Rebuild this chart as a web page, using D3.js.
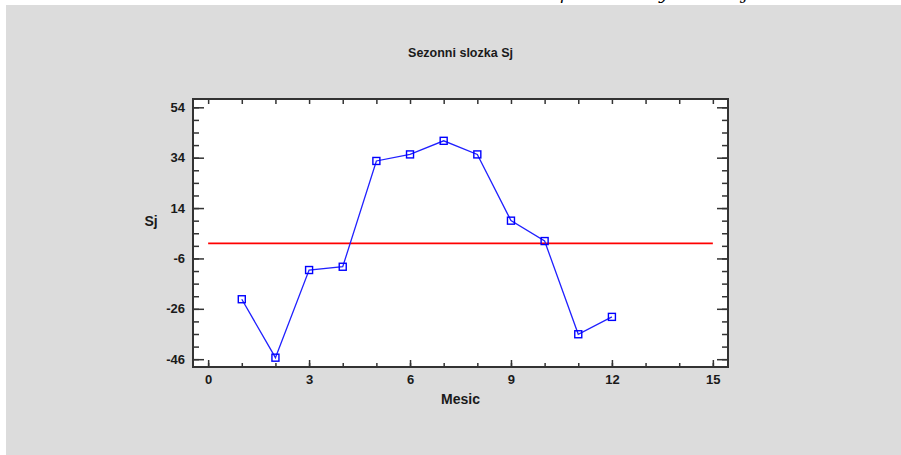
<!DOCTYPE html>
<html>
<head>
<meta charset="utf-8">
<script src="https://cdn.jsdelivr.net/npm/d3@7"></script>
<style>
	body { margin: 0; background: #fff; }
	text { font-family: "Liberation Sans", Arial, sans-serif; fill: #1a1a1a; }
</style>
</head>
<body>
<div id="chart"></div>
<script>
// seasonal component per month
var months = [1, 2, 3, 4, 5, 6, 7, 8, 9, 10, 11, 12];
var sj = [-22.2, -45.4, -10.6, -9.3, 32.7, 35.3, 40.7, 35.3, 9.0, 0.9, -36.1, -29.2];
var refLevel = [0];
var xMajor = [0, 3, 6, 9, 12, 15];
var xMinor = d3.range(0, 16, 1);
var yMajor = [-46, -26, -6, 14, 34, 54];
var yMinor = d3.range(-46, 55, 5);
var titleText = 'Sezonni slozka Sj';
var xTitle = 'Mesic';
var yTitle = 'Sj';
var topFragments = ['p', 'y', 'j'];

var W = 901, H = 455;
var plot = {left: 193, right: 728, top: 99, bottom: 367};

var svg = d3.select('#chart').append('svg')
	.attr('width', W)
	.attr('height', H);

// grey panel
svg.append('rect')
	.attr('x', 6).attr('y', 5)
	.attr('width', W - 6).attr('height', H - 5)
	.attr('fill', '#dcdcdc');

// text of the page above, only its descenders show
svg.selectAll('text.frag')
	.data(topFragments)
	.enter().append('text')
	.attr('class', 'frag')
	.attr('x', function(d, i){ return [560, 659, 743][i]; })
	.attr('y', -1)
	.attr('fill', '#000')
	.style('fill', '#000')
	.style('font-family', '"DejaVu Serif", serif')
	.style('font-style', 'italic')
	.style('font-size', '17px')
	.text(function(d){ return d; });

var x = d3.scaleLinear().domain([-0.45, 15.45]).range([plot.left, plot.right]);
var y = d3.scaleLinear().domain([-49.1, 57.3]).range([plot.bottom, plot.top]);
var fmt = function(d){ return String(d); };

svg.append('rect')
	.attr('x', plot.left).attr('y', plot.top)
	.attr('width', plot.right - plot.left)
	.attr('height', plot.bottom - plot.top)
	.attr('fill', '#fff');

function styleAxis(g){
	g.select('.domain').remove();
	g.selectAll('line').attr('stroke', '#333').attr('stroke-width', 1.5);
	g.selectAll('text')
		.style('font-size', '13px')
		.style('font-weight', 'bold')
		.attr('fill', '#1a1a1a');
}

// left
svg.append('g').attr('transform', 'translate(' + plot.left + ',0)')
	.call(d3.axisLeft(y).tickValues(yMinor).tickSize(-6).tickFormat(''))
	.call(styleAxis);
svg.append('g').attr('transform', 'translate(' + plot.left + ',0)')
	.call(d3.axisLeft(y).tickValues(yMajor).tickSize(-11).tickPadding(8).tickFormat(fmt))
	.call(styleAxis);
// right
svg.append('g').attr('transform', 'translate(' + plot.right + ',0)')
	.call(d3.axisRight(y).tickValues(yMinor).tickSize(-6).tickFormat(''))
	.call(styleAxis);
svg.append('g').attr('transform', 'translate(' + plot.right + ',0)')
	.call(d3.axisRight(y).tickValues(yMajor).tickSize(-11).tickFormat(''))
	.call(styleAxis);
// bottom
svg.append('g').attr('transform', 'translate(0,' + plot.bottom + ')')
	.call(d3.axisBottom(x).tickValues(xMinor).tickSize(-4).tickFormat(''))
	.call(styleAxis);
svg.append('g').attr('transform', 'translate(0,' + plot.bottom + ')')
	.call(d3.axisBottom(x).tickValues(xMajor).tickSize(-7).tickPadding(8).tickFormat(fmt))
	.call(styleAxis);
// top
svg.append('g').attr('transform', 'translate(0,' + plot.top + ')')
	.call(d3.axisTop(x).tickValues(xMinor).tickSize(-5).tickFormat(''))
	.call(styleAxis);

// frame
svg.append('rect')
	.attr('x', plot.left).attr('y', plot.top)
	.attr('width', plot.right - plot.left)
	.attr('height', plot.bottom - plot.top)
	.attr('fill', 'none')
	.attr('stroke', '#333')
	.attr('stroke-width', 2);

// reference line
svg.selectAll('line.ref')
	.data(refLevel)
	.enter().append('line')
	.attr('class', 'ref')
	.attr('x1', x(0)).attr('x2', x(15))
	.attr('y1', function(d){ return y(d); })
	.attr('y2', function(d){ return y(d); })
	.attr('stroke', '#ff0000')
	.attr('stroke-width', 1.6);

var pts = months.map(function(m, i){ return {m: m, v: sj[i]}; });

var line = d3.line()
	.x(function(d){ return x(d.m); })
	.y(function(d){ return y(d.v); });

svg.append('path')
	.datum(pts)
	.attr('d', line)
	.attr('fill', 'none')
	.attr('stroke', '#2020ff')
	.attr('stroke-width', 1.3);

var ms = 7;
svg.selectAll('rect.marker')
	.data(pts)
	.enter().append('rect')
	.attr('class', 'marker')
	.attr('x', function(d){ return x(d.m) - ms / 2; })
	.attr('y', function(d){ return y(d.v) - ms / 2; })
	.attr('width', ms).attr('height', ms)
	.attr('fill', 'none')
	.attr('stroke', '#0000ff')
	.attr('stroke-width', 1.4);

// titles
svg.append('text')
	.attr('x', (plot.left + plot.right) / 2)
	.attr('y', 57)
	.attr('text-anchor', 'middle')
	.style('font-size', '12.5px')
	.style('font-weight', 'bold')
	.text(titleText);

svg.append('text')
	.attr('x', (plot.left + plot.right) / 2)
	.attr('y', 404)
	.attr('text-anchor', 'middle')
	.style('font-size', '14px')
	.style('font-weight', 'bold')
	.text(xTitle);

svg.append('text')
	.attr('x', 151)
	.attr('y', 226)
	.attr('text-anchor', 'middle')
	.style('font-size', '14px')
	.style('font-weight', 'bold')
	.text(yTitle);
</script>
</body>
</html>
